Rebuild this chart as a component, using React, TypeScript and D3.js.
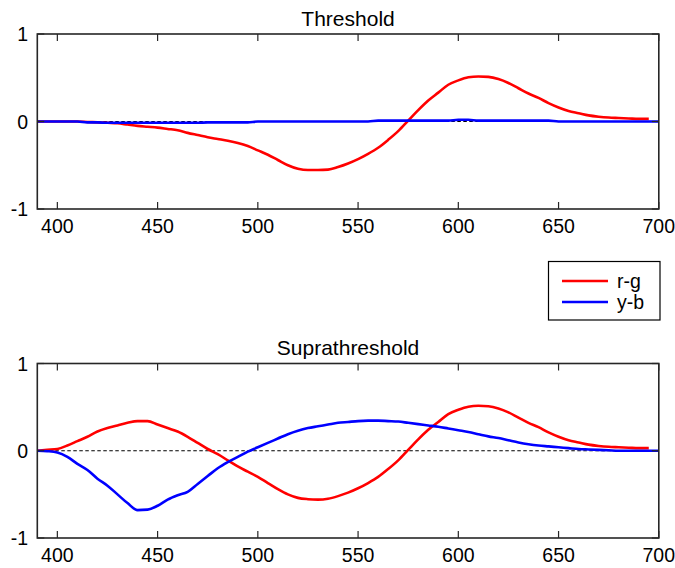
import React from "react";
import * as d3 from "d3";

const wavelengths = [
  390, 395, 400, 405, 410, 415, 420, 425, 430, 435, 440, 445, 450, 455, 460, 465, 470, 475, 480, 485,
  490, 495, 500, 505, 510, 515, 520, 525, 530, 535, 540, 545, 550, 555, 560, 565, 570, 575, 580, 585,
  590, 595, 600, 605, 610, 615, 620, 625, 630, 635, 640, 645, 650, 655, 660, 665, 670, 675, 680, 685,
  690, 695, 700,
];

// Threshold r-g (ends at 695)
const thresholdRG = [
  0, 0, 0, 0, 0, -0.005, -0.01, -0.015, -0.02, -0.035, -0.05, -0.06, -0.07, -0.085, -0.1, -0.13, -0.155, -0.18, -0.2, -0.22,
  -0.245, -0.28, -0.33, -0.38, -0.44, -0.5, -0.54, -0.555, -0.555, -0.55, -0.52, -0.48, -0.43, -0.37, -0.3, -0.21, -0.11, 0.01, 0.13, 0.24,
  0.33, 0.42, 0.47, 0.505, 0.515, 0.51, 0.485, 0.44, 0.38, 0.32, 0.27, 0.21, 0.16, 0.12, 0.095, 0.07, 0.055, 0.045, 0.04, 0.035,
  0.03, 0.03,
];

// Threshold y-b
const thresholdYB = [
  0, 0, 0, 0, 0, -0.01, -0.01, -0.015, -0.015, -0.015, -0.015, -0.015, -0.015, -0.015, -0.015, -0.015, -0.015, -0.01, -0.01, -0.01,
  -0.01, -0.01, 0, 0, 0, 0, 0, 0, 0, 0, 0, 0, 0, 0, 0.01, 0.01, 0.01, 0.01, 0.01, 0.01,
  0.01, 0.01, 0.02, 0.02, 0.01, 0.01, 0.01, 0.01, 0.01, 0.01, 0.01, 0.01, 0, 0, 0, 0, 0, 0, 0, 0,
  0, 0, 0,
];

// Suprathreshold r-g (ends at 695)
const supraRG = [
  0, 0.01, 0.02, 0.06, 0.11, 0.16, 0.22, 0.26, 0.29, 0.32, 0.34, 0.34, 0.3, 0.26, 0.22, 0.16, 0.09, 0.02, -0.04, -0.11,
  -0.18, -0.24, -0.3, -0.37, -0.44, -0.5, -0.54, -0.555, -0.56, -0.55, -0.52, -0.48, -0.43, -0.37, -0.3, -0.21, -0.11, 0.01, 0.13, 0.24,
  0.33, 0.42, 0.47, 0.505, 0.515, 0.51, 0.485, 0.44, 0.38, 0.32, 0.27, 0.21, 0.16, 0.12, 0.095, 0.07, 0.055, 0.045, 0.04, 0.035,
  0.03, 0.03,
];

// Suprathreshold y-b
const supraYB = [
  0, -0.005, -0.02, -0.07, -0.15, -0.22, -0.32, -0.4, -0.5, -0.6, -0.68, -0.675, -0.63, -0.56, -0.51, -0.47, -0.38, -0.29, -0.2, -0.13,
  -0.07, -0.01, 0.04, 0.09, 0.14, 0.19, 0.23, 0.26, 0.28, 0.3, 0.32, 0.33, 0.34, 0.345, 0.345, 0.34, 0.335, 0.32, 0.305, 0.29,
  0.275, 0.255, 0.235, 0.215, 0.19, 0.165, 0.145, 0.12, 0.095, 0.075, 0.06, 0.05, 0.04, 0.03, 0.02, 0.015, 0.01, 0.005, 0, 0,
  0, 0, 0,
];

const xTicks = [400, 450, 500, 550, 600, 650, 700];
const yTicks = [-1, 0, 1];
const seriesNames = ["r-g", "y-b"];
const seriesColors = ["#ff0000", "#0000ff"];

const FONT = "'Liberation Sans', Arial, Helvetica, sans-serif";
const xDomain: [number, number] = [390, 700];
const X0 = 37.3;
const X1 = 658.8;

type PanelProps = { title: string; top: number; bottom: number; rg: number[]; yb: number[] };

function Panel({ title, top, bottom, rg, yb }: PanelProps) {
  const x = d3.scaleLinear().domain(xDomain).range([X0, X1]);
  const y = d3.scaleLinear().domain([-1, 1]).range([bottom, top]);
  const line = d3
    .line<[number, number]>()
    .x((d) => x(d[0]))
    .y((d) => y(d[1]))
    .curve(d3.curveMonotoneX);
  const rgPts: [number, number][] = rg.map((v, i) => [wavelengths[i], v]);
  const ybPts: [number, number][] = yb.map((v, i) => [wavelengths[i], v]);
  const tl = 7;
  const axisColor = "#262626";
  return (
    <g>
      <rect x={X0} y={top} width={X1 - X0} height={bottom - top} fill="#fff" />
      <line x1={x(xDomain[0])} x2={x(xDomain[1])} y1={y(0)} y2={y(0)} stroke="#000" strokeWidth={1.2} strokeDasharray="3.5,2.5" />
      <path d={line(rgPts) || ""} fill="none" stroke={seriesColors[0]} strokeWidth={2.6} strokeLinejoin="round" />
      <path d={line(ybPts) || ""} fill="none" stroke={seriesColors[1]} strokeWidth={2.6} strokeLinejoin="round" />
      {xTicks.map((t) => (
        <g key={"xt" + t}>
          <line x1={x(t)} x2={x(t)} y1={bottom} y2={bottom - tl} stroke={axisColor} strokeWidth={1.2} />
          <line x1={x(t)} x2={x(t)} y1={top} y2={top + tl} stroke={axisColor} strokeWidth={1.2} />
          <text x={x(t)} y={bottom + 24} textAnchor="middle" fontFamily={FONT} fontSize={19.5} fill="#000">
            {t}
          </text>
        </g>
      ))}
      {yTicks.map((t) => (
        <g key={"yt" + t}>
          <line x1={X0} x2={X0 + tl} y1={y(t)} y2={y(t)} stroke={axisColor} strokeWidth={1.2} />
          <line x1={X1} x2={X1 - tl} y1={y(t)} y2={y(t)} stroke={axisColor} strokeWidth={1.2} />
          <text x={28} y={y(t)} dy="0.36em" textAnchor="end" fontFamily={FONT} fontSize={19.5} fill="#000">
            {t}
          </text>
        </g>
      ))}
      <rect x={X0} y={top} width={X1 - X0} height={bottom - top} fill="none" stroke={axisColor} strokeWidth={1.6} />
      <text x={(X0 + X1) / 2} y={top - 8.5} textAnchor="middle" fontFamily={FONT} fontSize={21} fill="#000">
        {title}
      </text>
    </g>
  );
}

export default function App() {
  return (
    <svg
      width={675}
      height={568}
      style={{ position: "absolute", left: 0, top: 0, background: "#fff" }}
    >
      <rect x={0} y={0} width={675} height={568} fill="#fff" />
      <Panel title="Threshold" top={34} bottom={209} rg={thresholdRG} yb={thresholdYB} />
      <Panel title="Suprathreshold" top={363.5} bottom={538} rg={supraRG} yb={supraYB} />
      <g>
        <rect x={548.5} y={261.5} width={111.5} height={58.5} fill="#fff" stroke="#000" strokeWidth={1.2} />
        {seriesNames.map((n, i) => (
          <g key={n}>
            <line x1={562} x2={608} y1={281 + i * 21} y2={281 + i * 21} stroke={seriesColors[i]} strokeWidth={2.6} />
            <text x={617} y={281 + i * 21} dy="0.36em" fontFamily={FONT} fontSize={19.5} fill="#000">
              {n}
            </text>
          </g>
        ))}
      </g>
    </svg>
  );
}
